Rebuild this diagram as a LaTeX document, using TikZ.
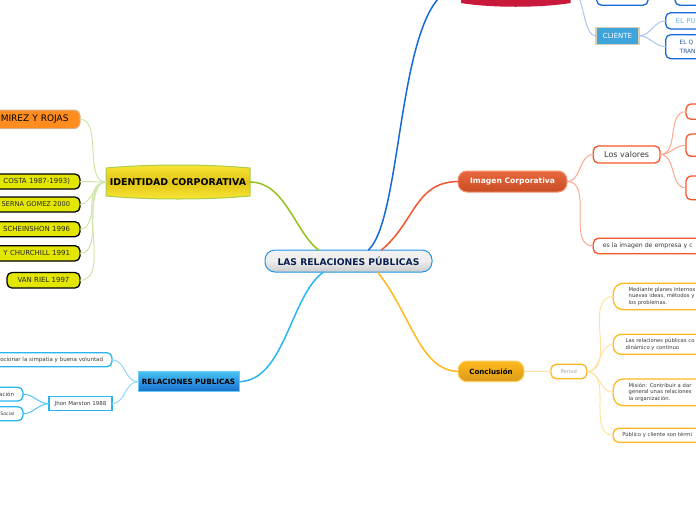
\documentclass[tikz,border=0pt]{standalone}
\usepackage{fontspec}
\setmainfont{DejaVu Sans}
\definecolor{cgreen}{HTML}{94C11F}
\definecolor{pgreen}{HTML}{CFE6A6}
\definecolor{csky}{HTML}{29B6F0}
\definecolor{psky}{HTML}{8FD9F8}
\definecolor{cblue}{HTML}{1768D8}
\definecolor{pblue}{HTML}{A9C8F0}
\definecolor{cred}{HTML}{F2572B}
\definecolor{pred}{HTML}{FBA88E}
\definecolor{cyel}{HTML}{FFB81E}
\definecolor{pyel}{HTML}{FFE2A0}
\definecolor{tdark}{HTML}{3A3A3A}
\definecolor{crimson}{HTML}{C8193A}
\definecolor{lima}{HTML}{E3E600}
\definecolor{naranja}{HTML}{FF8C1E}
\definecolor{idtop}{HTML}{F9E636}
\definecolor{idmid}{HTML}{E2C616}
\definecolor{imtop}{HTML}{E8683E}
\definecolor{imbot}{HTML}{C84C22}
\definecolor{tan}{HTML}{D8D0B0}
\definecolor{clifill}{HTML}{3FA4DC}
\definecolor{navy}{HTML}{0A1F50}
\tikzset{
  x=1pt,y=-1pt,
  geom/.style n args={4}{anchor=north west,at={(#1,#2)},outer sep=0pt,inner ysep=0pt,
    minimum width={#3-#1},minimum height={#4-#2}},
  gl/.style n args={5}{geom={#1}{#2}{#3}{#4},inner xsep=#5,text width={#3-#1-2*#5},align=left},
  gr/.style n args={5}{geom={#1}{#2}{#3}{#4},inner xsep=#5,text width={#3-#1-2*#5},align=right},
  gc/.style n args={4}{geom={#1}{#2}{#3}{#4},inner xsep=0pt,align=center},
  smalltxt/.style={font=\fontsize{5.5}{6.5}\selectfont,text=tdark},
  righttxt/.style={font=\fontsize{5.25}{6.5}\selectfont,text=tdark},
  thick line/.style={line width=1.5pt,line cap=round},
  thin line/.style={line width=1pt,line cap=round},
  wb/.style={draw=#1,fill=white,line width=1.3pt,rounded corners=5pt},
  yelbox/.style={draw=black,fill=lima,line width=1.3pt,rounded corners=5pt,text=black!85},
  sprout/.style={thin line,out=0,in=180},
}
\begin{document}
\begin{tikzpicture}
\useasboundingbox (0,0) rectangle (696,520);
\fill[white] (0,0) rectangle (696,520);
% --- shaped main topics
\draw[draw=cgreen!80,line width=1pt,top color=idtop,bottom color=idtop,middle color=idmid]
  (106,168) .. controls (150,164) and (206,164) .. (250,168) -- (250,196)
  .. controls (206,200) and (150,200) .. (106,196) -- cycle;
\fill[crimson] (461,-30) -- (570.5,-30) -- (570.5,3)
  .. controls (540,8) and (491,8) .. (461,3) -- cycle;
% --- nodes
\node[gc={265}{250}{432}{272},draw=cblue!40!csky,line width=1pt,rounded corners=10pt,
  top color=white!95!black,bottom color=black!20,middle color=black!7,
  font=\fontsize{9.2}{11}\bfseries\selectfont,text=navy] (root) {LAS RELACIONES PÚBLICAS};
\node[gc={106}{168}{250}{196},font=\fontsize{9.4}{11}\bfseries\selectfont,text=black] (ident) {IDENTIDAD CORPORATIVA};
\node[gc={138}{371.7}{239}{391.7},draw=csky!70,line width=1pt,top color=csky!85,bottom color=csky!70!blue!85!black,
  font=\fontsize{7.2}{8}\bfseries\selectfont,text=black] (relpub) {RELACIONES PUBLICAS};
\node[gc={461}{-30}{570.5}{4}] (rojo) {};
\node[gc={458}{171}{567}{192},draw=cred!65,line width=1pt,rounded corners=9pt,top color=imtop,bottom color=imbot,
  font=\fontsize{7.6}{9}\bfseries\selectfont,text=white] (imagen) {Imagen Corporativa};
\node[gc={458}{361}{524}{381.7},draw=cyel!70,line width=1pt,rounded corners=9pt,top color=cyel,bottom color=cyel!85!black,
  font=\fontsize{7.1}{9}\bfseries\selectfont,text=black] (concl) {Conclusión};
% left, green
\node[gr={-40}{110}{80}{128.5}{11.5},draw=brown!60,fill=naranja,line width=1pt,rounded corners=6pt,
  font=\fontsize{9}{10}\selectfont,text=black] (ramirez) {MIREZ Y ROJAS};
\node[gr={-40}{174}{80}{189}{10},yelbox,font=\fontsize{7}{8}\selectfont] (costa) {COSTA 1987-1993)};
\node[gr={-40}{197}{80}{212}{10},yelbox,font=\fontsize{6.6}{8}\selectfont] (serna) {SERNA GOMEZ 2000};
\node[gr={-40}{221.7}{80}{236.7}{10},yelbox,font=\fontsize{7}{8}\selectfont] (schein) {SCHEINSHON 1996};
\node[gr={-40}{245.7}{80}{261}{10},yelbox,font=\fontsize{7}{8}\selectfont] (church) {Y CHURCHILL 1991};
\node[gc={7}{272.5}{80}{288},yelbox,font=\fontsize{7}{8}\selectfont] (riel) {VAN RIEL 1997};
% left, blue
\node[gr={-40}{352.7}{112}{366.7}{9},wb=csky,smalltxt] (simpatia) {ocionar la simpatía y buena voluntad};
\node[gc={49}{396.7}{112}{410.7},draw=csky,fill=white,line width=1.3pt,smalltxt] (marston) {Jhon Marston 1988};
\node[gr={-40}{387.3}{23}{401}{9},wb=csky,smalltxt] (acion) {ación};
\node[gr={-40}{406.7}{23}{420.7}{8.7},wb=csky,smalltxt,font=\fontsize{4.7}{6}\selectfont] (social) {Social};
% top right
\node[gc={596.7}{-15}{648}{5.3},wb=cblue] (top1) {};
\node[gc={675}{-15}{740}{5.3},wb=cblue] (top2) {};
\node[gc={596}{27.3}{639}{44.3},draw=tan,fill=clifill,line width=1.6pt,
  font=\fontsize{7}{8}\selectfont,text=white] (cliente) {CLIENTE};
\node[gl={665.7}{12.7}{740}{29}{10},wb=cblue,font=\fontsize{7}{8}\selectfont,text=csky!65!cblue!70] (pu) {EL PU};
\node[gl={665.7}{34.7}{740}{58.7}{14},wb=cblue,font=\fontsize{5.9}{9}\selectfont,text=cblue!70!black!90] (que) {EL Q\\TRAN};
% right red
\node[gc={593.3}{146}{660}{163},wb=cred,font=\fontsize{8}{9}\selectfont,text=tdark] (valores) {Los valores};
\node[gc={686}{104}{740}{119.3},wb=cred] (v1) {};
\node[gc={686}{134}{740}{156.3},wb=cred] (v2) {};
\node[gc={686}{176}{740}{199.7},wb=cred] (v3) {};
\node[gl={593.3}{238.3}{760}{253.7}{9.5},wb=cred,font=\fontsize{6.2}{8}\selectfont,text=tdark] (esla) {es la imagen de empresa y c};
% right yellow
\node[gc={551}{364.3}{586.7}{378.7},wb=cyel,font=\fontsize{5.2}{6}\selectfont,text=black!35] (period) {Period};
\node[gl={613.3}{283.3}{780}{309.7}{15.4},wb=cyel,rounded corners=10pt,righttxt] (p1) {Mediante planes internos\\nuevas ideas, métodos y\\los problemas.};
\node[gl={613.3}{334.3}{780}{354.3}{12.4},wb=cyel,rounded corners=8pt,righttxt] (p2) {Las relaciones públicas co\\dinámico y continuo};
\node[gl={613.3}{379}{780}{405.7}{15.4},wb=cyel,rounded corners=10pt,righttxt] (p3) {Misión: Contribuir a dar\\general unas relaciones\\la organización.};
\node[gl={613.3}{428.3}{780}{442.3}{9},wb=cyel,righttxt] (p4) {Público y cliente son térmi};
% --- main branches
\draw[thick line,cgreen] (ident.east) .. controls (285,182) and (295,232) .. ([xshift=-30pt]root.north);
\draw[thick line,cblue] ([xshift=20pt]root.north) .. controls (405,215) and (396,-13) .. (rojo.west);
\draw[thick line,cred] ([xshift=33pt]root.north) .. controls (415,222) and (415,182) .. (imagen.west);
\draw[thick line,csky] (relpub.east) .. controls (285,381) and (290,296) .. ([xshift=-25pt]root.south);
\draw[thick line,cyel] ([xshift=29pt]root.south) .. controls (410,312) and (420,371) .. (concl.west);
% --- sub branches
\foreach \n in {ramirez,costa,serna,schein,church,riel}
  \draw[sprout,pgreen] (\n.east) to[looseness=.85] (ident.west);
\foreach \n in {simpatia,marston}
  \draw[sprout,psky] (\n.east) to (relpub.west);
\foreach \n in {acion,social}
  \draw[sprout,csky!80!white] (\n.east) to (marston.west);
\draw[sprout,pblue] (rojo.east) to (top1.west);
\draw[sprout,pblue] (rojo.east) .. controls (585,-9) and (582,36) .. (cliente.west);
\draw[sprout,pblue] (top1.east) to (top2.west);
\foreach \n in {pu,que}
  \draw[sprout,pblue] (cliente.east) to (\n.west);
\foreach \n in {valores,esla}
  \draw[sprout,pred] (imagen.east) to (\n.west);
\foreach \n in {v1,v2,v3}
  \draw[sprout,pred] (valores.east) to (\n.west);
\draw[sprout,pyel] (concl.east) to (period.west);
\foreach \n in {p1,p2,p3,p4}
  \draw[sprout,pyel] (period.east) to (\n.west);
\end{tikzpicture}
\end{document}
